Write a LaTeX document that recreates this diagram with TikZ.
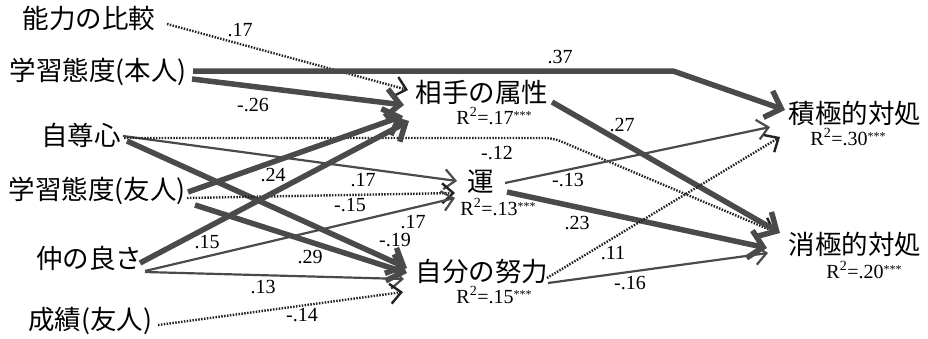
\documentclass[tikz,border=0pt]{standalone}
\usepackage{fontspec}
\setmainfont{Liberation Serif}
\newfontfamily\jpfont{Noto Sans CJK JP}
\usetikzlibrary{arrows.meta}
\definecolor{linegray}{HTML}{4A4A4A}
\definecolor{dotgray}{HTML}{222222}
% R^2 value with significance stars
\newcommand\rsqval[1]{R\textsuperscript{2}=#1\raisebox{5pt}{\fontsize{12}{12}\selectfont ***}}
\begin{document}
\begin{tikzpicture}[x=1pt,y=-1pt,
  jp/.style={font=\jpfont\fontsize{26.5}{28}\selectfont, inner sep=0pt, text height=0.78em, text depth=0.06em},
  coef/.style={font=\fontsize{20}{22}\selectfont, inner sep=0pt},
  rsq/.style={font=\fontsize{20}{22}\selectfont, inner sep=0pt, text height=0.68em, text depth=0pt},
  strongpath/.style={draw=linegray, line width=5.5pt, -{Straight Barb[length=14pt,width=28pt]}},
  weakpath/.style={draw=linegray, line width=2.2pt, -{Straight Barb[length=11pt,width=20pt]}},
  dotpath/.style={draw=dotgray, line width=2.4pt, dash pattern=on 1.5pt off 1.4pt, -{Straight Barb[length=11pt,width=20pt]}},
]
\useasboundingbox (0,0) rectangle (928,338);

% predictors
\node[jp] (cmp)  at (89,25)  {能力の比較};
\node[jp] (selfatt) at (98,77) {学習態度(本人)};
\node[jp] (esteem) at (81,142) {自尊心};
\node[jp] (frdatt) at (97,196) {学習態度(友人)};
\node[jp] (close) at (89,265) {仲の良さ};
\node[jp] (grade) at (90,326) {成績(友人)};

% attributions
\node[jp] (att) at (482,99) {相手の属性};
\node[rsq] (attr) at (494,121) {\rsqval{.17}};
\node[jp] (luck) at (481,188) {運};
\node[rsq] (luckr) at (498,212) {\rsqval{.13}};
\node[jp] (eff) at (482,278) {自分の努力};
\node[rsq] (effr) at (494,300) {\rsqval{.15}};

% coping
\node[jp] (act) at (855,120) {積極的対処};
\node[rsq] (actr) at (848,142) {\rsqval{.30}};
\node[jp] (pas) at (855,251) {消極的対処};
\node[rsq] (pasr) at (864,275) {\rsqval{.20}};

% paths into attributions
\draw[dotpath] ([shift={(78,-1)}]cmp.center) -- ([shift={(-74,-9)}]att.center);
\draw[strongpath] ([shift={(95,-6)}]selfatt.center) -- (673,71) -- ([shift={(-70,-10)}]act.center);
\draw[strongpath] ([shift={(94,2)}]selfatt.center) -- ([shift={(-78,6)}]att.center);
\draw[weakpath] ([shift={(42,-6)}]esteem.center) -- ([shift={(-24,-7)}]luck.center);
\draw[dotpath, rounded corners=8pt] ([shift={(43,-4)}]esteem.center) -- (553,138) -- ([shift={(-80,-19)}]pas.center);
\draw[strongpath] ([shift={(46,-1)}]esteem.center) -- ([shift={(-75,-10)}]eff.center);
\draw[strongpath] ([shift={(91,-4)}]frdatt.center) -- ([shift={(-79,17)}]att.center);
\draw[dotpath] ([shift={(90,2)}]frdatt.center) -- ([shift={(-26,5)}]luck.center);
\draw[strongpath] ([shift={(98,9)}]frdatt.center) -- ([shift={(-75,-5)}]eff.center);
\draw[strongpath] ([shift={(51,-2)}]close.center) -- ([shift={(-73,22)}]att.center);
\draw[weakpath] ([shift={(56,6)}]close.center) -- ([shift={(-26,10)}]luck.center);
\draw[weakpath] ([shift={(56,7)}]close.center) -- ([shift={(-78,1)}]eff.center);
\draw[dotpath] ([shift={(68,-1)}]grade.center) -- ([shift={(-79,14)}]eff.center);

% paths into coping
\draw[strongpath] ([shift={(70,3)}]att.center) -- ([shift={(-75,-18)}]pas.center);
\draw[weakpath] ([shift={(24,-5)}]luck.center) -- ([shift={(-85,7)}]act.center);
\draw[strongpath] ([shift={(26,4)}]luck.center) -- ([shift={(-88,-3)}]pas.center);
\draw[dotpath] ([shift={(65,0)}]eff.center) -- ([shift={(-75,17)}]act.center);
\draw[weakpath] ([shift={(66,5)}]eff.center) -- ([shift={(-87,2)}]pas.center);

% coefficients
\node[coef] (c1)  at (240,30)  {.17};
\node[coef] (c2)  at (560,57)  {.37};
\node[coef] (c3)  at (253,105) {-.26};
\node[coef] (c4)  at (363,180) {.17};
\node[coef] (c5)  at (497,153) {-.12};
\node[coef] (c6)  at (395,240) {-.19};
\node[coef] (c7)  at (273,175) {.24};
\node[coef] (c8)  at (350,205) {-.15};
\node[coef] (c9)  at (310,257) {.29};
\node[coef] (c10) at (207,242) {.15};
\node[coef] (c11) at (413,222) {.17};
\node[coef] (c12) at (263,287) {.13};
\node[coef] (c13) at (302,315) {-.14};
\node[coef] (c14) at (622,125) {.27};
\node[coef] (c15) at (568,180) {-.13};
\node[coef] (c16) at (577,223) {.23};
\node[coef] (c17) at (613,253) {.11};
\node[coef] (c18) at (630,283) {-.16};
\end{tikzpicture}
\end{document}
